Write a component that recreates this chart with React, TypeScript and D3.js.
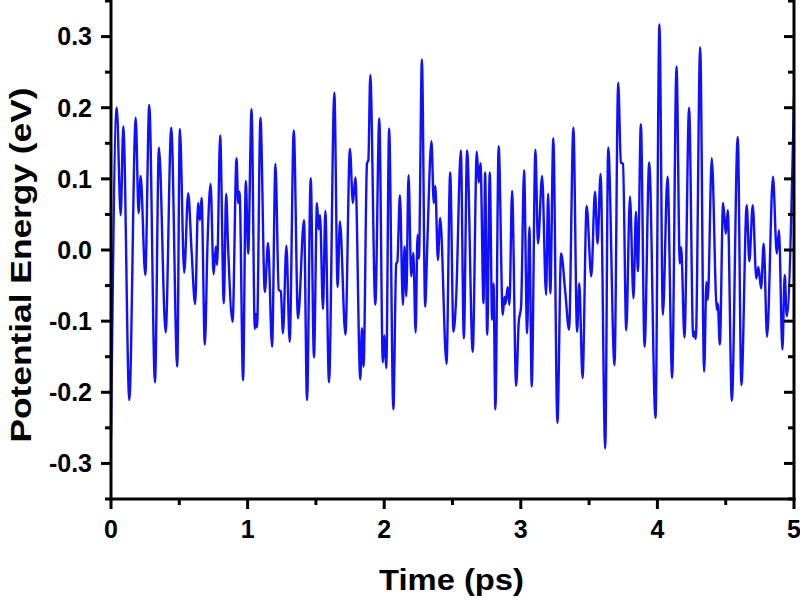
import React from "react";
import * as d3 from "d3";

// Time (ps) and potential energy (eV)
const timePs = [
  0, 0.042, 0.071, 0.09, 0.134, 0.181, 0.202, 0.217, 0.251, 0.28,
  0.322, 0.351, 0.4, 0.441, 0.485, 0.504, 0.536, 0.565, 0.59, 0.616,
  0.638, 0.651, 0.663, 0.687, 0.707, 0.729, 0.751, 0.768, 0.777, 0.799,
  0.826, 0.843, 0.857, 0.89, 0.919, 0.931, 0.941, 0.967, 0.987, 1.004,
  1.029, 1.053, 1.06, 1.069, 1.094, 1.126, 1.15, 1.179, 1.204, 1.228,
  1.243, 1.259, 1.284, 1.308, 1.338, 1.369, 1.413, 1.435, 1.462, 1.486,
  1.508, 1.52, 1.53, 1.552, 1.569, 1.596, 1.635, 1.659, 1.676, 1.716,
  1.749, 1.771, 1.789, 1.825, 1.837, 1.849, 1.874, 1.884, 1.898, 1.935,
  1.964, 1.99, 2.001, 2.015, 2.036, 2.067, 2.088, 2.096, 2.115, 2.137,
  2.149, 2.162, 2.178, 2.198, 2.213, 2.23, 2.244, 2.254, 2.276, 2.3,
  2.315, 2.346, 2.363, 2.374, 2.393, 2.41, 2.456, 2.483, 2.507, 2.527,
  2.561, 2.583, 2.607, 2.648, 2.678, 2.692, 2.705, 2.727, 2.739, 2.754,
  2.773, 2.79, 2.8, 2.814, 2.838, 2.868, 2.88, 2.887, 2.904, 2.917,
  2.936, 2.966, 2.985, 3.002, 3.024, 3.046, 3.063, 3.08, 3.107, 3.126,
  3.156, 3.185, 3.2, 3.216, 3.238, 3.268, 3.295, 3.326, 3.353, 3.385,
  3.412, 3.428, 3.452, 3.482, 3.516, 3.543, 3.562, 3.584, 3.618, 3.64,
  3.686, 3.713, 3.733, 3.748, 3.772, 3.799, 3.825, 3.843, 3.857, 3.879,
  3.906, 3.94, 3.986, 4.015, 4.04, 4.074, 4.108, 4.14, 4.164, 4.174,
  4.198, 4.232, 4.262, 4.271, 4.281, 4.313, 4.342, 4.359, 4.369, 4.398,
  4.435, 4.442, 4.457, 4.481, 4.501, 4.515, 4.545, 4.588, 4.615, 4.654,
  4.673, 4.698, 4.724, 4.739, 4.759, 4.778, 4.803, 4.846, 4.874, 4.89,
  4.915, 4.932, 4.947, 5.0,
];

const energyEv = [
  -0.262, 0.2, 0.049, 0.174, -0.211, 0.186, 0.052, 0.104, -0.035, 0.204,
  -0.186, 0.144, -0.116, 0.172, -0.164, 0.17, -0.032, 0.08, -0.002, -0.076,
  0.066, 0.042, 0.073, -0.133, 0.012, 0.093, -0.034, 0.005, -0.021, 0.161,
  -0.075, 0.079, 0.005, -0.101, 0.129, 0.066, 0.082, -0.183, 0.097, -0.005,
  0.198, -0.111, -0.09, -0.109, 0.186, -0.059, 0.01, -0.136, 0.121, -0.056,
  -0.058, -0.117, 0.006, -0.129, 0.168, -0.096, 0.042, -0.211, 0.101, -0.151,
  0.066, 0.029, 0.049, -0.083, 0.055, -0.186, 0.221, -0.052, 0.04, -0.119,
  0.142, 0.066, 0.102, -0.182, -0.11, -0.164, 0.122, 0.126, 0.246, -0.077,
  0.185, -0.158, -0.12, -0.166, 0.171, -0.224, -0.019, -0.017, 0.077, -0.077,
  0.005, -0.065, 0.105, -0.037, -0.004, -0.116, 0.021, -0.012, 0.268, -0.08,
  0.005, 0.153, 0.066, 0.09, -0.014, 0.045, -0.16, 0.109, -0.115, -0.066,
  0.14, -0.124, 0.14, -0.143, 0.138, 0.095, 0.122, -0.075, 0.109, -0.119,
  0.109, -0.098, -0.047, -0.224, 0.146, -0.091, -0.066, -0.076, -0.052, -0.077,
  0.083, -0.191, -0.101, -0.08, 0.112, -0.117, 0.032, -0.192, 0.141, 0.009,
  0.104, -0.063, 0.079, -0.061, 0.157, -0.243, -0.005, -0.06, -0.112, 0.172,
  -0.115, -0.047, -0.18, 0.062, -0.037, 0.082, 0.009, 0.107, -0.279, 0.144,
  -0.162, 0.235, 0.123, 0.121, -0.113, 0.075, -0.068, 0.054, -0.03, 0.177,
  -0.136, 0.123, -0.236, 0.317, -0.091, 0.103, -0.18, 0.258, -0.019, 0.004,
  -0.123, 0.2, -0.122, -0.115, -0.125, 0.285, -0.171, -0.045, -0.07, 0.129,
  -0.084, -0.075, -0.133, 0.066, 0.023, 0.056, -0.212, 0.159, -0.19, 0.063,
  -0.016, 0.063, -0.04, -0.024, -0.054, 0.009, -0.122, 0.103, -0.005, 0.028,
  -0.14, -0.035, -0.093, 0.215,
];

const xTicks = [0, 1, 2, 3, 4, 5];
const xMinorTicks = [0.5, 1.5, 2.5, 3.5, 4.5];
const yTicks = [-0.3, -0.2, -0.1, 0, 0.1, 0.2, 0.3];
const yMinorTicks = [-0.35, -0.25, -0.15, -0.05, 0.05, 0.15, 0.25, 0.35];

const xTitle = "Time (ps)";
const yTitle = "Potential Energy (eV)";

export default function App() {
  const left = 111;
  const right = 794;
  const top = 1;
  const bottom = 499;

  const x = d3.scaleLinear().domain([0, 5]).range([left, right]);
  const y = d3.scaleLinear().domain([-0.35, 0.35]).range([bottom, top]);

  const pts: [number, number][] = timePs.map((t, i) => [t, energyEv[i]]);
  const line = d3
    .line<[number, number]>()
    .x((d) => x(d[0]))
    .y((d) => y(d[1]))
    .curve(d3.curveMonotoneX);

  const fmt = (v: number) => d3.format(".1f")(v).replace("\u2212", "-");
  const font = "'Liberation Sans', Arial, Helvetica, sans-serif";
  const axisW = 3;

  return (
    <svg
      width={800}
      height={600}
      style={{ position: "absolute", left: 0, top: 0, background: "#fff" }}
      fontFamily={font}
    >
      <defs>
        <clipPath id="plotClip">
          <rect x={left} y={0} width={right - left} height={bottom} />
        </clipPath>
      </defs>
      <rect x={0} y={0} width={800} height={600} fill="#fff" />

      <path
        d={line(pts) || ""}
        fill="none"
        stroke="#1010ff"
        strokeWidth={2.4}
        strokeLinejoin="round"
        clipPath="url(#plotClip)"
      />

      {/* frame */}
      <g stroke="#000" strokeWidth={axisW}>
        <line x1={left} x2={left} y1={-2} y2={bottom + 1.5} />
        <line x1={right} x2={right} y1={-2} y2={bottom + 1.5} />
        <line x1={left - 1.5} x2={right + 1.5} y1={bottom} y2={bottom} />
      </g>

      {/* ticks */}
      <g stroke="#000" strokeWidth={3}>
        {yTicks.map((v) => (
          <g key={"ym" + v}>
            <line x1={left - 10} x2={left} y1={y(v)} y2={y(v)} />
            <line x1={right} x2={right - 10} y1={y(v)} y2={y(v)} />
          </g>
        ))}
        {yMinorTicks.map((v) => (
          <g key={"yn" + v}>
            <line x1={left - 6} x2={left} y1={y(v)} y2={y(v)} />
            <line x1={right} x2={right - 6} y1={y(v)} y2={y(v)} />
          </g>
        ))}
        {xTicks.map((v) => (
          <line key={"xm" + v} x1={x(v)} x2={x(v)} y1={bottom} y2={bottom + 10} />
        ))}
        {xMinorTicks.map((v) => (
          <line key={"xn" + v} x1={x(v)} x2={x(v)} y1={bottom} y2={bottom + 6} />
        ))}
      </g>

      {/* tick labels */}
      <g fontSize={25} fontWeight="bold" fill="#000">
        {yTicks.map((v) => (
          <text key={"yl" + v} x={left - 19} y={y(v) + 8.8} textAnchor="end">
            {fmt(v)}
          </text>
        ))}
        {xTicks.map((v) => (
          <text key={"xl" + v} x={x(v)} y={538} textAnchor="middle">
            {v}
          </text>
        ))}
      </g>

      {/* titles */}
      <text
        x={451.5}
        y={590}
        fontSize={30}
        fontWeight="bold"
        textAnchor="middle"
        textLength={145}
        lengthAdjust="spacingAndGlyphs"
      >
        {xTitle}
      </text>
      <text
        transform="translate(31,265) rotate(-90)"
        fontSize={30}
        fontWeight="bold"
        textAnchor="middle"
        textLength={355}
        lengthAdjust="spacingAndGlyphs"
      >
        {yTitle}
      </text>
    </svg>
  );
}
